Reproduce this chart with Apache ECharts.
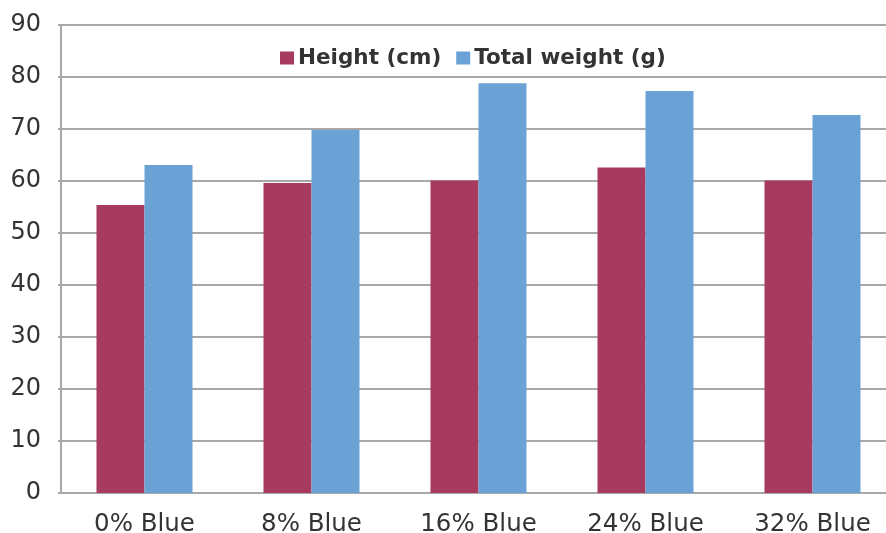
<!DOCTYPE html>
<html>
<head>
<meta charset="utf-8">
<script src="https://cdn.jsdelivr.net/npm/echarts@6/dist/echarts.min.js"></script>
<style>
  html, body { margin: 0; padding: 0; background: #fff; overflow: hidden; }
  #chart { width: 886px; height: 533px; }
</style>
</head>
<body>
<div id="chart"></div>
<script>
const categories = ['0% Blue', '8% Blue', '16% Blue', '24% Blue', '32% Blue'];
const heightCm = [55.4, 59.6, 60.1, 62.6, 60.1];
const totalWeightG = [63.1, 69.8, 78.8, 77.3, 72.7];
const yTicks = { min: 0, max: 90, interval: 10 };

const font = '"DejaVu Sans", Verdana, sans-serif';
const chart = echarts.init(document.getElementById('chart'), null, { renderer: 'canvas' });

chart.setOption({
  animation: false,
  backgroundColor: '#ffffff',
  // plot area runs slightly past the right edge of the canvas
  grid: { left: 61, width: 835, top: 25, bottom: 40, containLabel: false, outerBoundsMode: 'none' },
  legend: {
    top: 42,
    left: 275,
    itemWidth: 14,
    itemHeight: 13,
    itemGap: 15,
    icon: 'rect',
    textStyle: { fontFamily: font, fontSize: 21.5, fontWeight: 'bold', color: '#333333', padding: [0, 0, 0, -1] },
    data: ['Height (cm)', 'Total weight (g)']
  },
  xAxis: {
    type: 'category',
    data: categories,
    axisLine: { lineStyle: { color: '#a8a8a8', width: 2 } },
    axisTick: { show: false },
    axisLabel: { fontFamily: font, fontSize: 24.5, color: '#333333', margin: 19 }
  },
  yAxis: {
    type: 'value',
    min: yTicks.min,
    max: yTicks.max,
    interval: yTicks.interval,
    axisLine: { show: true, lineStyle: { color: '#a8a8a8', width: 2 } },
    axisTick: { show: true, length: 3, lineStyle: { color: '#a8a8a8', width: 2 } },
    axisLabel: { fontFamily: font, fontSize: 24, color: '#333333', margin: 20 },
    splitLine: { lineStyle: { color: '#a8a8a8', width: 2 } }
  },
  series: [
    {
      name: 'Height (cm)',
      type: 'bar',
      data: heightCm,
      barWidth: 48,
      barGap: '0%',
      itemStyle: { color: '#a63a5f' }
    },
    {
      name: 'Total weight (g)',
      type: 'bar',
      data: totalWeightG,
      barWidth: 48,
      barGap: '0%',
      itemStyle: { color: '#6ba2d6' }
    }
  ]
});
</script>
</body>
</html>
